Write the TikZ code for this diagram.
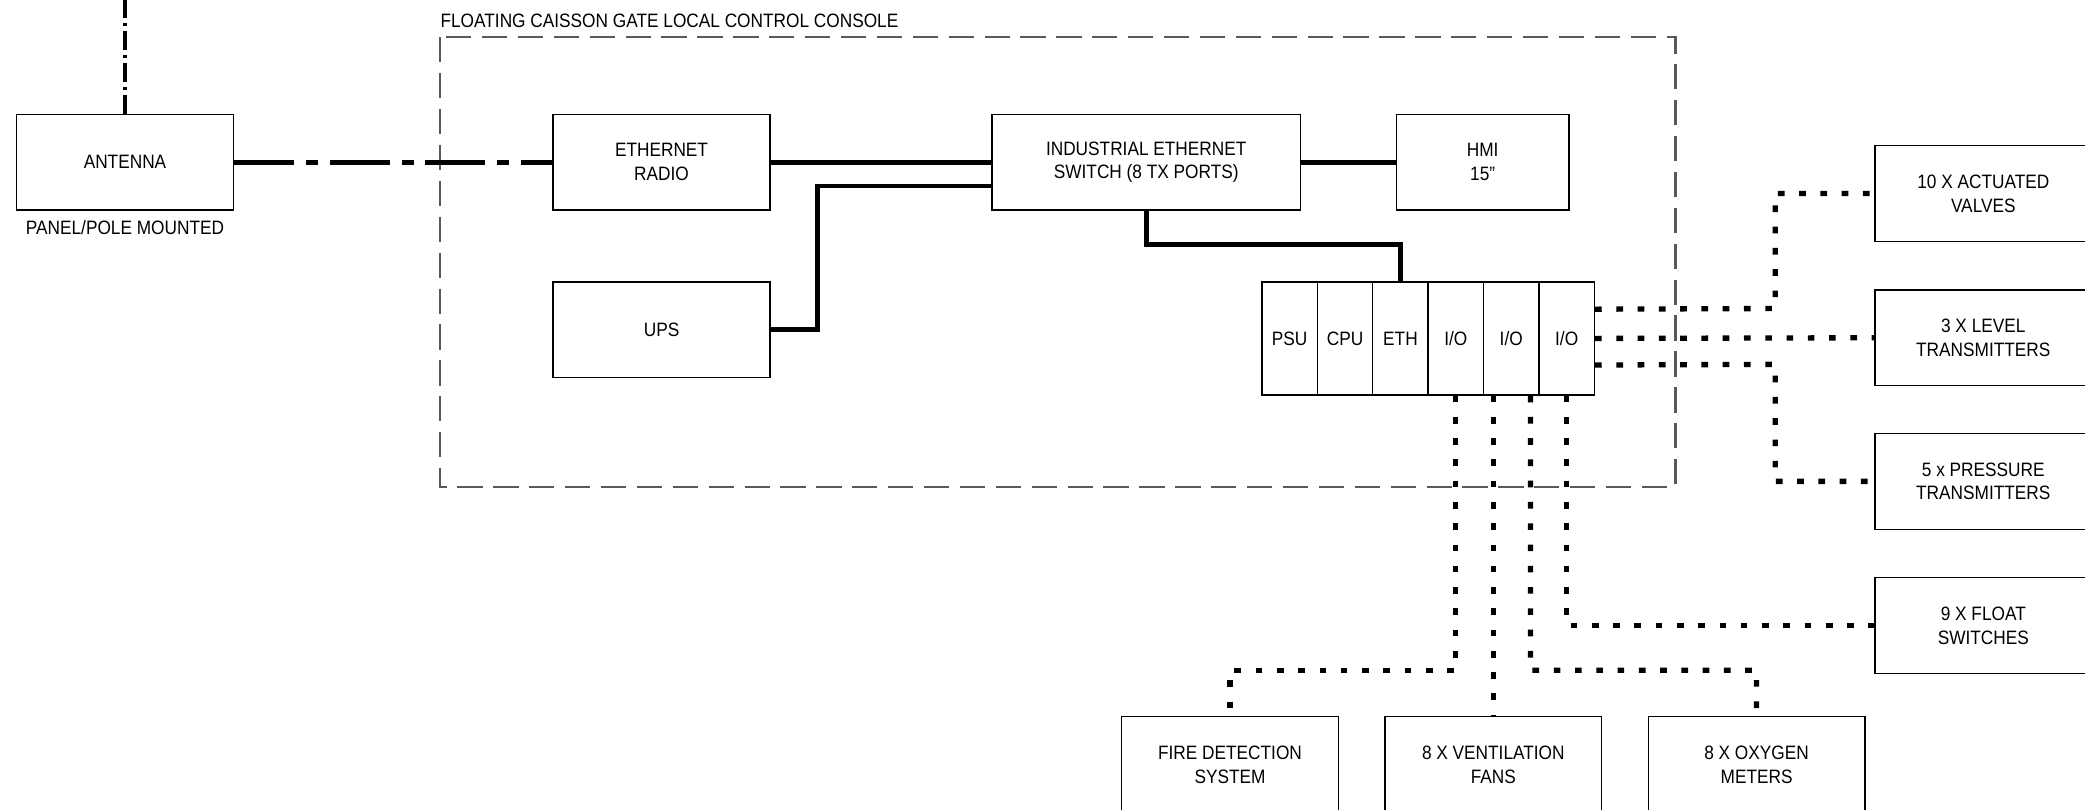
\documentclass[tikz,border=0pt]{standalone}
\usepackage{fontspec}
\setmainfont[FakeStretch=0.89]{Liberation Sans}
\usetikzlibrary{calc}
\begin{document}
\begin{tikzpicture}[x=0.02cm,y=-0.02cm,
 txt/.style={font=\fontsize{8.3}{10.2}\selectfont},
 box/.style={draw=black, line width=0.6pt, fill=white, minimum width=3.26cm, minimum height=1.44cm, inner sep=0pt, align=center, txt},
 slot/.style={draw=black, line width=0.6pt, fill=white, minimum width=0.8333cm, minimum height=1.7cm, inner sep=0pt, txt},
 power/.style={line width=0.07cm},
 radio/.style={line width=0.08cm, dash pattern=on 0.9cm off 0.18cm on 0.18cm off 0.18cm},
 radiov/.style={line width=0.065cm, dash pattern=on 0.28cm off 0.08cm on 0.04cm off 0.08cm},
 signal/.style={line width=0.08cm, dash pattern=on 0.1cm off 0.22cm},
 frame/.style={draw=black!65, line width=0.035cm, dash pattern=on 0.38cm off 0.16cm},
 lbl/.style={inner sep=0pt, txt}]
\useasboundingbox (0,0) rectangle (1568,609);

% console frame
\draw[frame] (331,28) rectangle (1260,366);
\node[lbl, anchor=west] (title) at (331,16) {FLOATING CAISSON GATE LOCAL CONTROL CONSOLE};

% boxes
\node[box] (ant) at (94,122) {ANTENNA};
\node[lbl] (antlbl) at (94,171) {PANEL/POLE MOUNTED};
\node[box] (er) at (497.5,122) {ETHERNET\\RADIO};
\node[box] (ups) at (497.5,248) {UPS};
\node[box, minimum width=4.64cm] (sw) at (862,122) {INDUSTRIAL ETHERNET\\SWITCH (8 TX PORTS)};
\node[box, minimum width=2.6cm] (hmi) at (1115,122) {HMI\\15"};

% PLC rack
\node[slot] (psu) at (969.8,254.5) {PSU};
\node[slot] (cpu) at (1011.5,254.5) {CPU};
\node[slot] (eth) at (1053.2,254.5) {ETH};
\node[slot] (io1) at (1094.8,254.5) {I/O};
\node[slot] (io2) at (1136.5,254.5) {I/O};
\node[slot] (io3) at (1178.2,254.5) {I/O};

% field devices right
\node[box] (valves) at (1491.5,145.5) {10 X ACTUATED\\VALVES};
\node[box] (level) at (1491.5,254) {3 X LEVEL\\TRANSMITTERS};
\node[box] (press) at (1491.5,362) {5 x PRESSURE\\TRANSMITTERS};
\node[box] (float) at (1491.5,470.5) {9 X FLOAT\\SWITCHES};

% field devices bottom
\node[box] (fire) at (925,575) {FIRE DETECTION\\SYSTEM};
\node[box] (vent) at (1123,575) {8 X VENTILATION\\FANS};
\node[box] (oxy) at (1321,575) {8 X OXYGEN\\METERS};

% radio links
\coordinate (sky) at (94,0);
\draw[radiov] (ant.north) -- (sky);
\draw[radio] (ant.east) -- (er.west);

% ethernet / power
\draw[power] (er.east) -- (sw.west);
\draw[power, line join=miter] (ups.east) -- (615,248) |- ([yshift=-0.36cm]sw.west);
\draw[power] (sw.east) -- (hmi.west);
\draw[power, line join=miter] (sw.south) -- (862,184) -| (eth.north);

% signals right
\draw[signal] ([yshift=0.44cm]io3.east) -- (1335,232) |- (valves.west);
\draw[signal] (io3.east) -- (level.west);
\draw[signal] ([yshift=-0.4cm]io3.east) -- (1335,274) |- (press.west);

% signals bottom
\draw[signal] (io1.south) -- (1094.8,504) -| (fire.north);
\draw[signal] ($(io2.south)+(-13.5,0)$) -- (vent.north);
\draw[signal] ($(io2.south)+(14.5,0)$) -- (1151,504) -| (oxy.north);
\draw[signal] (io3.south) -- (1178.2,470.5) -- (float.west);
\end{tikzpicture}
\end{document}
